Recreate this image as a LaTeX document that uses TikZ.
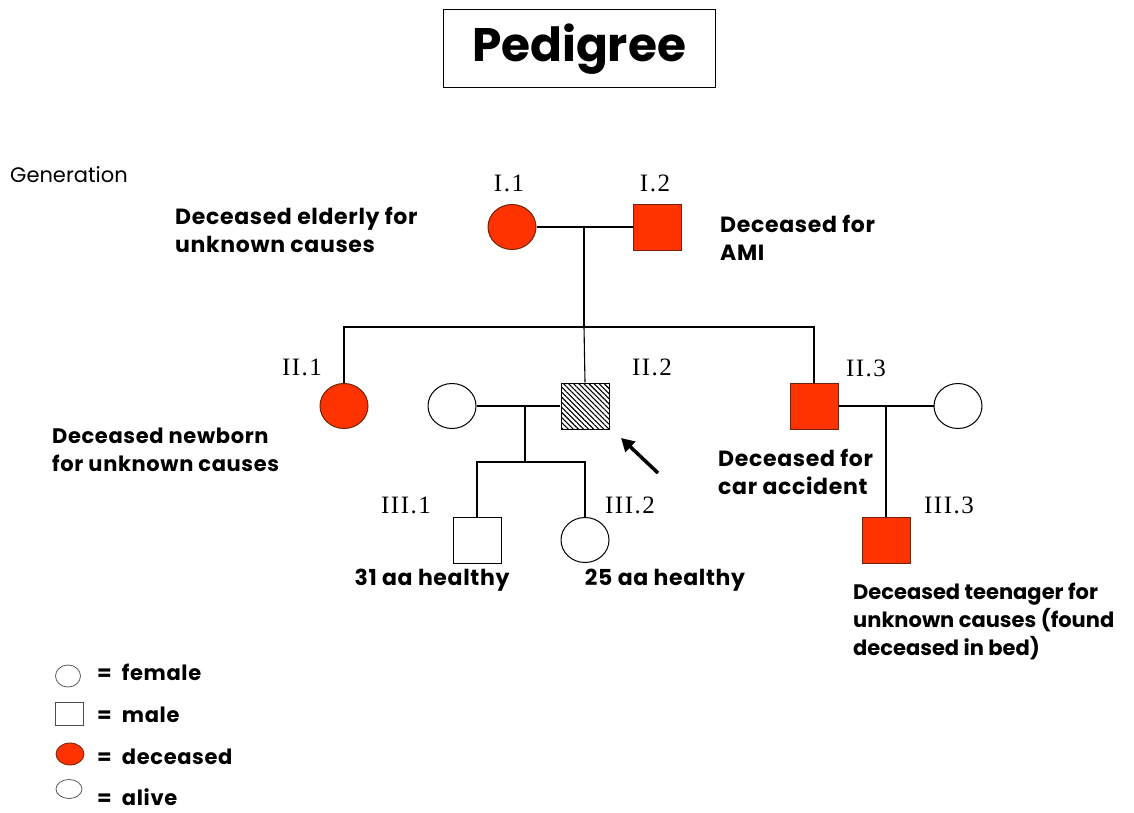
\documentclass[tikz,border=0pt]{standalone}
\usepackage{fontspec}
\setmainfont{Poppins}
\newfontfamily\serif[LetterSpace=6]{Liberation Serif}
\newfontfamily\notefont[LetterSpace=3]{Poppins}
\usetikzlibrary{patterns.meta,arrows.meta,shapes.geometric}
\definecolor{dred}{RGB}{255,51,0}
\definecolor{dedge}{RGB}{110,35,10}
\begin{document}
\begin{tikzpicture}[x=1pt,y=-1pt,
  fem/.style={draw, ellipse, minimum width=48pt, minimum height=45pt, inner sep=0pt, line width=1pt},
  mal/.style={draw, rectangle, minimum width=48pt, minimum height=46pt, inner sep=0pt, line width=1pt},
  dec/.style={fill=dred, draw=dedge},
  hatch/.style={pattern={Lines[angle=-45,distance=3.6pt,line width=1.1pt]}, pattern color=black},
  lab/.style={font=\serif\fontsize{25}{27}\selectfont, inner sep=0pt},
  note/.style={font=\notefont\bfseries\fontsize{22}{28}\selectfont, align=left, inner sep=0pt, anchor=west},
  link/.style={line width=1.1pt},
  lfem/.style={draw=gray!70!black, ellipse, minimum width=25pt, minimum height=22pt, inner sep=0pt, line width=0.8pt},
  lmal/.style={draw=gray!60!black, rectangle, minimum width=28pt, minimum height=23pt, inner sep=0pt, line width=0.8pt},
  ltxt/.style={font=\notefont\bfseries\fontsize{21}{22}\selectfont, inner sep=0pt, anchor=west}
]
\useasboundingbox (0,0) rectangle (1134,813);
% title
\node[draw, line width=1pt, minimum width=272pt, minimum height=78pt, inner sep=0pt,
      font=\bfseries\fontsize{47}{52}\selectfont] (title) at (579,49) {Pedigree};
\node[font=\fontsize{21}{22}\selectfont, inner sep=0pt, anchor=west] (gen) at (10,175) {Generation};
% generation I
\node[fem,dec] (I1) at (512,227) {};
\node[mal,dec] (I2) at (657,227) {};
\node[lab] (lI1) at (509,183) {I.1};
\node[lab] (lI2) at (655,183) {I.2};
\node[note] (nI1) at (175,230) {Deceased elderly for\\unknown causes};
\node[note] (nI2) at (720,238) {Deceased for\\AMI};
\coordinate (m1) at (584,227);
\coordinate (s1) at (584,327);
\draw[link] (I1) -- (I2);
\draw[link] (m1) -- (s1);
% generation II
\node[fem,dec] (II1) at (344,406) {};
\node[fem] (W2) at (452,406) {};
\node[mal,hatch] (II2) at (585,406) {};
\node[mal,dec] (II3) at (814,406) {};
\node[fem] (W3) at (958,406) {};
\node[lab] (lII1) at (302,367) {II.1};
\node[lab] (lII2) at (652,367) {II.2};
\node[lab] (lII3) at (866,368) {II.3};
\node[note, font=\notefont\bfseries\fontsize{21}{28}\selectfont] (nII1) at (52,450) {Deceased newborn\\for unknown causes};
\node[note] (nII3) at (718,472) {Deceased for\\car accident};
\draw[link] (II1.north) -- (II1.north |- s1) -- (II3.north |- s1) -- (II3.north);
\draw[link] (s1) -- (II2.north);
\coordinate (m2) at (525,406);
\coordinate (s2) at (525,462);
\draw[link] (W2) -- (II2);
\draw[link] (m2) -- (s2);
\coordinate (m3) at (886,406);
\draw[link] (II3) -- (W3);
% proband arrow
\coordinate (atail) at (658,473);
\coordinate (ahead) at (621,438);
\draw[line width=3.5pt, -{Triangle[length=13pt,width=14pt]}] (atail) -- (ahead);
% generation III
\node[mal] (III1) at (477,540) {};
\node[fem] (III2) at (585,540) {};
\node[mal,dec] (III3) at (886,540) {};
\node[lab] (lIII1) at (406,505) {III.1};
\node[lab] (lIII2) at (630,505) {III.2};
\node[lab] (lIII3) at (949,505) {III.3};
\draw[link] (III1.north) -- (III1.north |- s2) -- (III2.north |- s2) -- (III2.north);
\draw[link] (m3) -- (III3.north);
\node[note, anchor=center] (nIII1) at (432,580) {31 aa healthy};
\node[note, anchor=center] (nIII2) at (665,580) {25 aa healthy};
\node[note, font=\bfseries\fontsize{21}{28}\selectfont] (nIII3) at (853,621) {Deceased teenager for\\unknown causes (found\\deceased in bed)};
% legend
\node[lfem] (kf) at (68,676) {};
\node[lmal] (km) at (69,714) {};
\node[lfem, fill=dred, draw=dedge, minimum width=28pt, minimum height=22pt] (kd) at (70,754) {};
\node[lfem, minimum width=26pt, minimum height=19pt] (ka) at (69,789) {};
\node[ltxt] (tf) at (97,672) {=~~female};
\node[ltxt] (tm) at (97,715) {=~~male};
\node[ltxt] (td) at (97,757) {=~~deceased};
\node[ltxt] (ta) at (97,797) {=~~alive};
\end{tikzpicture}
\end{document}
